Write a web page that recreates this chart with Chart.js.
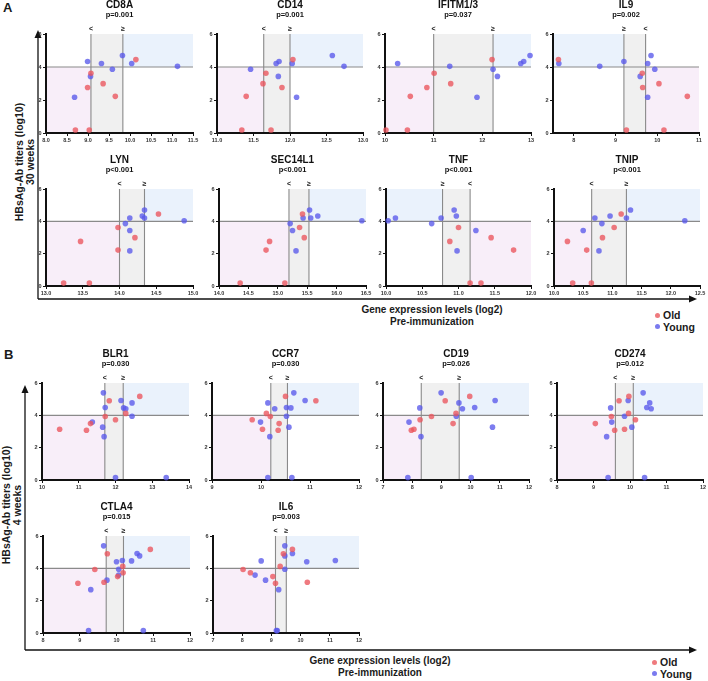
<!DOCTYPE html>
<html><head><meta charset="utf-8">
<script src="https://cdn.jsdelivr.net/npm/chart.js@4.4.1/dist/chart.umd.min.js"></script>
<style>
html,body{margin:0;padding:0;background:#fff}
body{width:708px;height:681px;position:relative;overflow:hidden;font-family:"Liberation Sans",Arial,sans-serif}
canvas{position:absolute}
.t{position:absolute;font-weight:bold;color:#1a1a1a;white-space:nowrap;line-height:1}
.rot{position:absolute;font-weight:bold;color:#1a1a1a;white-space:nowrap;text-align:center;transform:translate(-50%,-50%) rotate(-90deg);font-size:10.5px;line-height:11px}
.ctr{position:absolute;font-weight:bold;color:#1a1a1a;white-space:nowrap;text-align:center;transform:translateX(-50%);font-size:10px;line-height:12px}
.leg{position:absolute;font-weight:bold;font-size:10.5px;line-height:11.5px;color:#1a1a1a}
.leg i{display:inline-block;width:5px;height:5px;border-radius:50%;margin-right:3px;vertical-align:middle;position:relative;top:-1px}
</style></head><body>
<svg width="708" height="681" style="position:absolute;left:0;top:0">
  <g stroke="#111" stroke-width="1.3" fill="none">
    <path d="M38 299 V37"/><path d="M38 299 H690"/>
    <path d="M25 650 V392"/><path d="M25 650 H690"/>
  </g>
  <g fill="#111">
    <path d="M38 30 L34.5 38 L41.5 38 Z"/><path d="M697 299 L689 295.5 L689 302.5 Z"/>
    <path d="M25 385 L21.5 393 L28.5 393 Z"/><path d="M697 650 L689 646.5 L689 653.5 Z"/>
  </g>
</svg>
<div class="t" style="left:3px;top:1px;font-size:13px">A</div>
<div class="t" style="left:4px;top:348px;font-size:13px">B</div>
<div class="rot" style="left:25px;top:162px">HBsAg-Ab titers (log10)<br>30 weeks</div>
<div class="rot" style="left:12px;top:505px">HBsAg-Ab titers (log10)<br>4 weeks</div>
<div class="ctr" style="left:432px;top:304px">Gene expression levels (log2)<br>Pre-immunization</div>
<div class="ctr" style="left:380px;top:655px">Gene expression levels (log2)<br>Pre-immunization</div>
<div class="leg" style="left:655px;top:310px"><i style="background:#ef7a7e"></i>Old<br><i style="background:#7a7aef"></i>Young</div>
<div class="leg" style="left:652px;top:657px"><i style="background:#ef7a7e"></i>Old<br><i style="background:#7a7aef"></i>Young</div>
<script>
// ---------------- DATA ----------------
const geneA = ["CD8A", "CD14", "IFITM1/3", "IL9", "LYN", "SEC14L1", "TNF", "TNIP"];
const pValA = ["p=0.001", "p=0.001", "p=0.037", "p=0.002", "p<0.001", "p<0.001", "p<0.001", "p<0.001"];
const geneB = ["BLR1", "CCR7", "CD19", "CD274", "CTLA4", "IL6"];
const pValB = ["p=0.030", "p=0.030", "p=0.026", "p=0.012", "p=0.015", "p=0.003"];

// HBsAg-Ab titers (log10)
const oldTiter30w = [4.45, 3.62, 2.99, 2.76, 2.22, 0.18, 0.18];
const youngTiter30w = [4.70, 4.33, 4.21, 4.21, 4.04, 3.86, 3.43, 2.17];
const oldTiter4w = [5.17, 4.90, 4.12, 3.93, 3.73, 3.49, 3.14, 3.08];
const youngTiter4w = [5.39, 4.92, 4.77, 4.48, 4.46, 4.41, 3.94, 3.58, 3.27, 2.68, 0.15, 0.15];

// Gene expression (log2), same subject order as the titer arrays
const CD8A_old = [10.14, 9.07, 9.36, 8.99, 9.65, 8.70, 9.03];
const CD8A_young = [9.82, 8.99, 9.32, 10.04, 11.13, 9.58, 9.06, 8.68];
const CD14_old = [12.04, 11.67, 11.63, 11.89, 11.40, 11.34, 11.74];
const CD14_young = [12.58, 11.85, 11.81, 12.03, 12.74, 11.46, 11.84, 12.09];
const IFITM13_old = [12.20, 11.01, 11.35, 10.86, 10.52, 10.02, 10.46];
const IFITM13_young = [12.98, 12.85, 10.26, 12.79, 11.33, 12.22, 12.31, 11.89];
const IL9_old = [7.63, 9.64, 10.04, 9.65, 10.72, 9.26, 10.16];
const IL9_young = [9.85, 9.20, 7.64, 9.77, 8.62, 9.94, 9.59, 9.77];
const LYN_old = [14.53, 13.98, 14.21, 13.47, 13.98, 13.24, 13.59];
const LYN_young = [14.34, 14.31, 14.14, 14.34, 14.88, 14.08, 14.14, 14.14];
const SEC14L1_old = [15.42, 15.37, 15.45, 14.86, 14.80, 14.36, 15.12];
const SEC14L1_young = [15.54, 15.68, 15.43, 15.56, 16.43, 15.21, 15.25, 15.31];
const TNF_old = [null, 11.00, 11.45, 10.88, 11.76, 11.16, 11.31];
const TNF_young = [10.94, 10.97, 10.13, 10.76, 10.03, 10.63, 11.24, 10.98];
const TNIP_old = [11.15, 11.03, 10.83, 10.23, 10.56, 10.32, 10.64];
const TNIP_young = [11.31, 10.96, 10.70, 11.24, 12.24, 10.82, 10.50, 10.77];

const BLR1_old = [12.66, 11.83, 12.28, 11.72, 12.00, 11.32, 10.48, 11.21];
const BLR1_young = [11.67, 12.15, 12.45, 11.72, 12.22, 12.28, 12.45, 11.37, 11.65, 11.69, 12.00, 13.38];
const CCR7_old = [10.50, 11.12, 10.11, 10.19, 9.82, 10.37, 10.03, 10.35];
const CCR7_young = [10.67, 10.90, 10.14, 10.52, 10.61, 10.28, 10.52, 9.99, 10.57, 10.18, 10.14, 10.63];
const CD19_old = [9.97, 9.13, 9.50, 8.66, 8.27, 9.40, 8.06, 7.97];
const CD19_young = [8.99, 10.84, 9.60, 10.14, 8.26, 9.72, 9.51, 7.89, 10.75, 8.30, 7.85, 10.02];
const CD274_old = [9.97, 9.70, 9.96, 9.49, 10.15, 9.05, 9.85, 9.58];
const CD274_young = [10.36, 9.95, 10.54, 10.46, 9.47, 10.58, 9.85, 9.50, 10.05, 9.36, 9.40, 10.40];
const CTLA4_old = [10.92, 9.75, 10.17, 9.41, 10.18, 10.03, 9.66, 8.95];
const CTLA4_young = [9.65, 10.56, 10.63, 10.16, 10.41, 10.00, 10.06, 10.06, 9.74, 9.30, 9.24, 10.73];
const IL6_old = [9.72, 9.41, 9.30, 8.03, 8.28, 9.05, 10.23, 9.14];
const IL6_young = [9.46, 9.72, 9.46, 11.19, 8.65, 10.21, 9.46, 8.44, 8.80, 9.25, 9.17, 9.20];

// cut-off lines (lower, upper) and whether high expression = low titer
const cutoffsA = [[9.07, 9.83], [11.64, 12.0], [11.0, 12.22], [9.2, 9.72], [14.0, 14.34], [15.19, 15.53], [10.78, 11.16], [10.645, 11.24]];
const invertedA = [false, false, false, true, false, false, true, false];
const cutoffsB = [[11.71, 12.21], [10.20, 10.54], [8.31, 9.61], [9.60, 10.09], [9.72, 10.19], [9.14, 9.51]];

// axis ranges and tick labels
const xRangeA = [[8, 11.5], [11, 13], [10, 13], [7.5, 11], [13, 15], [14, 16.5], [10, 12], [10, 12.5]];
const xTicksA = [[8, 8.5, 9, 9.5, 10, 10.5, 11, 11.5], [11, 11.5, 12, 12.5, 13], [10, 11, 12, 13], [8, 9, 10, 11],
  [13, 13.5, 14, 14.5, 15], [14, 14.5, 15, 15.5, 16, 16.5], [10, 10.5, 11, 11.5, 12], [10, 10.5, 11, 11.5, 12, 12.5]];
const xDecA = [1, 1, 0, 0, 1, 1, 1, 1];
const xRangeB = [[10, 14], [9, 12], [7, 12], [8, 12], [8, 12], [7, 12]];
const xTicksB = [[10, 11, 12, 13, 14], [9, 10, 11, 12], [7, 8, 9, 10, 11, 12], [8, 9, 10, 11, 12], [8, 9, 10, 11, 12], [7, 8, 9, 10, 11, 12]];
const yTicks = [0, 2, 4, 6];

// ---------------- LAYOUT (plot boxes: left, top, right, bottom) ----------------
const boxesA = [[46, 34, 193, 133], [217, 34, 363, 133], [385, 34, 531, 133], [553, 34, 699, 133],
  [46, 189, 193, 286], [219, 189, 366, 286], [386, 189, 531, 286], [554, 189, 700, 286]];
const boxesB = [[42, 383, 189, 480], [212, 383, 359, 480], [383, 383, 529, 480], [557, 383, 703, 480],
  [43, 536, 190, 633], [213, 536, 359, 633]];

const FONT = '"Liberation Sans", Arial, sans-serif';
const RED = 'rgba(235,85,92,0.78)';
const BLUE = 'rgba(88,88,235,0.78)';

const decor = {
  id: 'decor',
  beforeDraw(chart) {
    const o = chart.options.plugins.decor;
    const { ctx, chartArea: a, scales: { x, y } } = chart;
    const x1 = x.getPixelForValue(o.cuts[0]), x2 = x.getPixelForValue(o.cuts[1]);
    const y6 = y.getPixelForValue(6), y4 = y.getPixelForValue(4), y0 = y.getPixelForValue(0);
    ctx.save();
    const pink = '#f8eef9', blue = '#eaf2fc', gray = '#f0f0f0';
    if (!o.inverted) {
      ctx.fillStyle = pink; ctx.fillRect(a.left, y4, x1 - a.left, y0 - y4);
      ctx.fillStyle = blue; ctx.fillRect(x2, y6, a.right - x2, y4 - y6);
    } else {
      ctx.fillStyle = blue; ctx.fillRect(a.left, y6, x1 - a.left, y4 - y6);
      ctx.fillStyle = pink; ctx.fillRect(x2, y4, a.right - x2, y0 - y4);
    }
    ctx.fillStyle = gray; ctx.fillRect(x1, y6, x2 - x1, y0 - y6);
    ctx.strokeStyle = '#8a8a8a'; ctx.lineWidth = 1.1;
    ctx.beginPath();
    ctx.moveTo(x1, y0); ctx.lineTo(x1, y6);
    ctx.moveTo(x2, y0); ctx.lineTo(x2, y6);
    ctx.moveTo(a.left, y4); ctx.lineTo(a.right, y4);
    ctx.stroke();
    ctx.restore();
  },
  afterDraw(chart) {
    const o = chart.options.plugins.decor;
    const { ctx, chartArea: a, scales: { x } } = chart;
    ctx.save();
    ctx.fillStyle = '#111';
    ctx.textAlign = 'center'; ctx.textBaseline = 'middle';
    const cx = (a.left + a.right) / 2;
    ctx.font = 'bold 10px ' + FONT;
    ctx.fillText(o.title, cx, a.top - 29);
    ctx.font = 'bold 7.5px ' + FONT;
    ctx.fillText(o.p, cx, a.top - 19);
    ctx.font = 'bold 7px ' + FONT;
    const lab = o.inverted ? ['\u2265', '<'] : ['<', '\u2265'];
    ctx.fillText(lab[0], x.getPixelForValue(o.cuts[0]), a.top - 5);
    ctx.fillText(lab[1], x.getPixelForValue(o.cuts[1]), a.top - 5);
    ctx.restore();
  }
};

function makePanel(c) {
  const [L, T, R, B] = c.box;
  const cv = document.createElement('canvas');
  const W = R - L + 34, H = B - T + 52;
  cv.width = W; cv.height = H;
  cv.style.width = W + 'px'; cv.style.height = H + 'px';
  cv.style.left = (L - 22) + 'px'; cv.style.top = (T - 36) + 'px';
  document.body.appendChild(cv);
  const pts = (xs, ys) => xs.map((v, i) => ({ x: v, y: ys[i] })).filter(p => p.x !== null);
  const tickFont = { family: FONT, size: 5.5, weight: 'bold' };
  new Chart(cv, {
    type: 'scatter',
    data: {
      datasets: [
        { label: 'Old', data: pts(c.oldX, c.oldY), backgroundColor: RED, borderWidth: 0, pointRadius: 2.8, pointHoverRadius: 2.8, clip: false },
        { label: 'Young', data: pts(c.youngX, c.youngY), backgroundColor: BLUE, borderWidth: 0, pointRadius: 2.8, pointHoverRadius: 2.8, clip: false }
      ]
    },
    options: {
      responsive: false, animation: false, devicePixelRatio: 1, events: [],
      layout: { padding: { left: 10, top: 36, right: 12, bottom: 4 } },
      plugins: {
        legend: { display: false }, tooltip: { enabled: false },
        decor: { cuts: c.cuts, inverted: c.inverted, title: c.title, p: c.p }
      },
      scales: {
        x: {
          type: 'linear', min: c.xr[0], max: c.xr[1],
          afterBuildTicks: s => { s.ticks = c.xt.map(v => ({ value: v })); },
          afterFit: s => { s.height = 12; s.paddingLeft = 0; s.paddingRight = 0; },
          ticks: { font: tickFont, color: '#333', padding: 1.5, maxRotation: 0, minRotation: 0, autoSkip: false,
            callback: v => Number(v).toFixed(c.dec) },
          grid: { drawOnChartArea: false, drawTicks: true, tickLength: 3, color: '#111', lineWidth: 1 },
          border: { display: true, color: '#111', width: 2 }
        },
        y: {
          type: 'linear', min: 0, max: 6,
          afterBuildTicks: s => { s.ticks = yTicks.map(v => ({ value: v })); },
          afterFit: s => { s.width = 12; s.paddingTop = 0; s.paddingBottom = 0; },
          ticks: { font: tickFont, color: '#333', padding: 1.5, autoSkip: false, callback: v => String(v) },
          grid: { drawOnChartArea: false, drawTicks: true, tickLength: 3, color: '#111', lineWidth: 1 },
          border: { display: true, color: '#111', width: 2 }
        }
      }
    },
    plugins: [decor]
  });
}

const oldA = [CD8A_old, CD14_old, IFITM13_old, IL9_old, LYN_old, SEC14L1_old, TNF_old, TNIP_old];
const youngA = [CD8A_young, CD14_young, IFITM13_young, IL9_young, LYN_young, SEC14L1_young, TNF_young, TNIP_young];
const oldB = [BLR1_old, CCR7_old, CD19_old, CD274_old, CTLA4_old, IL6_old];
const youngB = [BLR1_young, CCR7_young, CD19_young, CD274_young, CTLA4_young, IL6_young];

geneA.forEach((g, i) => makePanel({
  title: g, p: pValA[i], box: boxesA[i], cuts: cutoffsA[i], inverted: invertedA[i],
  xr: xRangeA[i], xt: xTicksA[i], dec: xDecA[i],
  oldX: oldA[i], oldY: oldTiter30w, youngX: youngA[i], youngY: youngTiter30w
}));
geneB.forEach((g, i) => makePanel({
  title: g, p: pValB[i], box: boxesB[i], cuts: cutoffsB[i], inverted: false,
  xr: xRangeB[i], xt: xTicksB[i], dec: 0,
  oldX: oldB[i], oldY: oldTiter4w, youngX: youngB[i], youngY: youngTiter4w
}));
</script>
</body></html>
